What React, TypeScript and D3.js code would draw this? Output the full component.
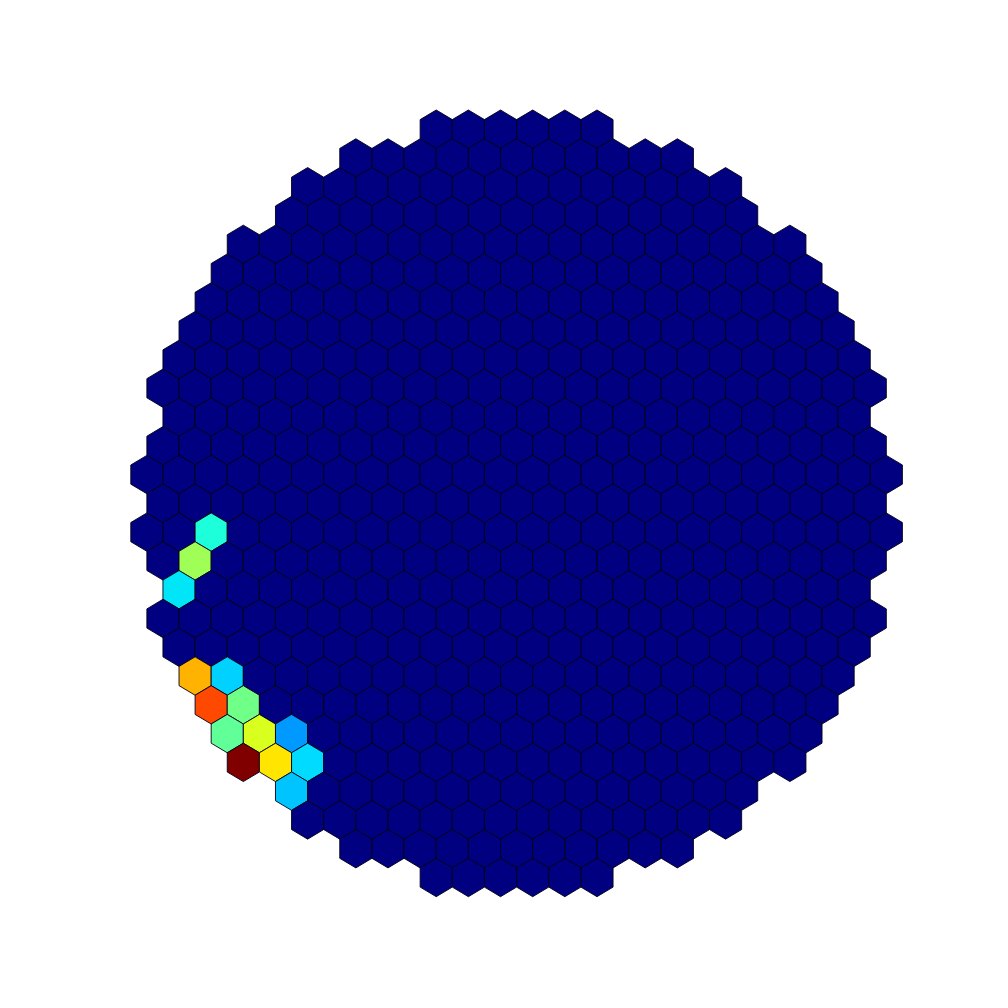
import React from "react";
import * as d3 from "d3";

// Camera layout: half-span (in pixel-pitch units) of each hexagon row, top to bottom
const ROW_HALF_SPANS = [
  2.5, 5, 6.5, 7, 8.5, 9, 9.5, 10, 10.5, 11, 10.5, 11, 11.5, 11,
  11.5, 11, 10.5, 11, 10.5, 10, 9.5, 9, 8.5, 7, 6.5, 5, 2.5,
];

// Pixels with signal (row index, column offset, normalised charge)
const SIGNAL_ROWS = [14, 15, 16, 19, 19, 20, 20, 21, 21, 21, 22, 22, 22, 23];
const SIGNAL_COLS = [-9.5, -10, -10.5, -10, -9, -9.5, -8.5, -9, -8, -7, -8.5, -7.5, -6.5, -7];
const SIGNAL_VALUES = [0.385, 0.545, 0.35, 0.72, 0.33, 0.834, 0.486, 0.467, 0.614, 0.275, 1.0, 0.667, 0.34, 0.317];

// matplotlib "jet" colormap
const JET_R: [number, number][] = [[0, 0], [0.35, 0], [0.66, 1], [0.89, 1], [1, 0.5]];
const JET_G: [number, number][] = [[0, 0], [0.125, 0], [0.375, 1], [0.64, 1], [0.91, 0], [1, 0]];
const JET_B: [number, number][] = [[0, 0.5], [0.11, 1], [0.34, 1], [0.65, 0], [1, 0]];

const W = 1008;
const H = 1008;

function channel(stops: [number, number][]) {
  return d3.scaleLinear().domain(stops.map((s) => s[0])).range(stops.map((s) => s[1])).clamp(true);
}

export default function App() {
  const rCh = channel(JET_R);
  const gCh = channel(JET_G);
  const bCh = channel(JET_B);
  const norm = d3.scaleLinear().domain([0, d3.max(SIGNAL_VALUES) as number]).range([0, 1]).clamp(true);
  const jet = (v: number) => {
    const t = norm(v);
    return d3.rgb(rCh(t) * 255, gCh(t) * 255, bCh(t) * 255).formatHex();
  };

  const pitchX = 32.15;
  const x = d3.scaleLinear().domain([0, 1]).range([516.6, 516.6 + pitchX]);
  const y = d3.scaleLinear().domain([0, ROW_HALF_SPANS.length - 1]).range([129.2, 877.5]);
  const pitchY = y(1) - y(0);
  const hx = pitchX / 2;
  const ry = (pitchY * 2) / 3;

  const valueMap = new Map<string, number>();
  SIGNAL_ROWS.forEach((r, i) => valueMap.set(`${r}:${SIGNAL_COLS[i]}`, SIGNAL_VALUES[i]));

  const pixels: { r: number; c: number; v: number }[] = [];
  ROW_HALF_SPANS.forEach((h, r) => {
    for (let c = -h; c <= h + 1e-9; c += 1) {
      const key = `${r}:${c}`;
      pixels.push({ r, c, v: valueMap.get(key) ?? 0 });
    }
  });

  const hexPath = (cx: number, cy: number) => {
    const pts: [number, number][] = [
      [cx, cy - ry],
      [cx + hx, cy - ry / 2],
      [cx + hx, cy + ry / 2],
      [cx, cy + ry],
      [cx - hx, cy + ry / 2],
      [cx - hx, cy - ry / 2],
    ];
    return d3.line()(pts) + "Z";
  };

  return (
    <svg
      width={W}
      height={H}
      style={{ position: "absolute", left: 0, top: 0, background: "#fff" }}
    >
      <g>
        {pixels.map((p, i) => (
          <path
            key={i}
            d={hexPath(x(p.c), y(p.r))}
            fill={jet(p.v)}
            stroke="#000014"
            strokeWidth={0.9}
            strokeLinejoin="miter"
          />
        ))}
      </g>
    </svg>
  );
}
